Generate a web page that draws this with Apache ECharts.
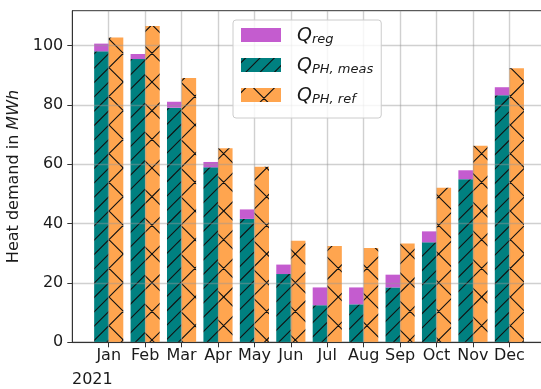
<!DOCTYPE html>
<html>
<head>
<meta charset="utf-8">
<script src="https://cdn.jsdelivr.net/npm/echarts@6/dist/echarts.min.js"></script>
<style>
  html, body { margin: 0; padding: 0; background: #fff; }
  #chart { width: 541px; height: 389px; }
</style>
</head>
<body>
<div id="chart"></div>
<script>
// Monthly heat demand 2021 (MWh)
const months = ['Jan', 'Feb', 'Mar', 'Apr', 'May', 'Jun', 'Jul', 'Aug', 'Sep', 'Oct', 'Nov', 'Dec'];
const qPhMeas = [98.1, 95.5, 79.1, 59.0, 41.6, 23.0, 12.5, 12.8, 18.5, 33.7, 55.0, 83.3];
const qReg = [2.6, 1.7, 2.0, 1.8, 3.2, 3.2, 6.0, 5.7, 4.3, 3.7, 3.0, 2.7];
const qPhRef = [102.8, 106.6, 89.1, 65.4, 59.2, 34.2, 32.5, 31.8, 33.3, 52.1, 66.3, 92.4];
const yTicks = [0, 20, 40, 60, 80, 100];
const yearLabel = '2021';

const FONT = 'DejaVu Sans';
const TEXT = '#1a1a1a';
const monthIdx = months.map((_, i) => i);

// Hatch fills: repeating tiles of diagonal lines anchored to the canvas origin
function hatch(bg, period, withBackslash) {
  const tile = 86;
  const c = document.createElement('canvas');
  c.width = tile; c.height = tile;
  const g = c.getContext('2d');
  g.fillStyle = bg;
  g.fillRect(0, 0, tile, tile);
  g.strokeStyle = '#111';
  g.lineWidth = 1.1;
  g.beginPath();
  const n = Math.ceil(3 * tile / period) + 2;
  for (let k = -n; k <= n; k++) {
    const a = 4.6 + k * period;          // lines x + y = a
    g.moveTo(a + tile, -tile); g.lineTo(a - 2 * tile, 2 * tile);
    if (withBackslash) {
      const b = 12.66 + k * period;      // lines x - y = b
      g.moveTo(b - tile, -tile); g.lineTo(b + 2 * tile, 2 * tile);
    }
  }
  g.stroke();
  return { image: c, repeat: 'repeat' };
}

const purple = '#c45ccf';
const tealFill = hatch('#008080', 86 / 6, false);
const orangeFill = hatch('#ffa54f', 86 / 3, true);

// value first so it is the stacked dimension; month index mapped onto x
const pairs = arr => arr.map((v, i) => [v, monthIdx[i]]);
const ENC = { x: 1, y: 0 };
const BAR_W = 14.57;

const legendRich = {
  q: { fontFamily: FONT, fontStyle: 'italic', fontSize: 19, color: TEXT, lineHeight: 22, verticalAlign: 'bottom', padding: [0, 0, 0, 11] },
  s: { fontFamily: FONT, fontStyle: 'italic', fontSize: 13, color: TEXT, lineHeight: 14, verticalAlign: 'bottom' }
};
const legendText = {
  reg: '{q|Q}{s|reg}',
  meas: '{q|Q}{s|PH, meas}',
  ref: '{q|Q}{s|PH, ref}'
};

const chart = echarts.init(document.getElementById('chart'), null, { renderer: 'canvas' });
chart.setOption({
  animation: false,
  backgroundColor: '#fff',
  grid: {
    left: 72.3, top: 10.7, width: 473.5, height: 331.6,
    containLabel: false, outerBoundsMode: 'none',
    show: true, borderColor: '#333', borderWidth: 1, backgroundColor: 'transparent'
  },
  legend: {
    orient: 'vertical', left: 233, top: 20,
    padding: [7, 8, 12, 8], itemGap: 11,
    itemWidth: 40, itemHeight: 14, icon: 'rect',
    backgroundColor: 'rgba(255,255,255,0.8)', borderColor: '#cccccc', borderWidth: 1, borderRadius: 3,
    data: ['reg', 'meas', 'ref'],
    formatter: name => legendText[name],
    textStyle: { rich: legendRich },
    z: 10
  },
  xAxis: {
    type: 'value', min: -1, max: 12, interval: 1, z: 5,
    axisLine: { show: true, onZero: false, lineStyle: { color: '#333', width: 1 } },
    axisTick: { show: true, length: 5, customValues: monthIdx, lineStyle: { color: '#333' } },
    axisLabel: {
      customValues: monthIdx, margin: 6,
      formatter: v => months[v] || '',
      fontFamily: FONT, fontSize: 16, color: TEXT
    },
    splitLine: { show: true, lineStyle: { color: 'rgba(150,150,150,0.45)', width: 1.4 } }
  },
  yAxis: {
    type: 'value', min: 0, max: 111.8, interval: 20, z: 5,
    axisLine: { show: true, onZero: false, lineStyle: { color: '#333', width: 1 } },
    axisTick: { show: true, length: 5, customValues: yTicks, lineStyle: { color: '#333' } },
    axisLabel: { customValues: yTicks, margin: 9, fontFamily: FONT, fontSize: 16, color: TEXT },
    splitLine: { show: true, lineStyle: { color: 'rgba(150,150,150,0.45)', width: 1.4 } },
    name: '{n|Heat demand in }{i|MWh}',
    nameLocation: 'middle', nameGap: 47, nameRotate: 90,
    nameTextStyle: {
      rich: {
        n: { fontFamily: FONT, fontSize: 16, color: TEXT },
        i: { fontFamily: FONT, fontSize: 16, fontStyle: 'italic', color: TEXT }
      }
    }
  },
  graphic: [{
    type: 'text', left: 72, top: 372,
    style: { text: yearLabel, font: '16px "DejaVu Sans"', fill: TEXT }
  }],
  series: [
    {
      name: 'meas', type: 'bar', stack: 'measured', barWidth: BAR_W, barGap: '0%',
      encode: ENC, itemStyle: { color: tealFill }, data: pairs(qPhMeas)
    },
    {
      name: 'reg', type: 'bar', stack: 'measured', barWidth: BAR_W, barGap: '0%',
      encode: ENC, itemStyle: { color: purple }, data: pairs(qReg)
    },
    {
      name: 'ref', type: 'bar', barWidth: BAR_W, barGap: '0%',
      encode: ENC, itemStyle: { color: orangeFill }, data: pairs(qPhRef)
    }
  ]
});
</script>
</body>
</html>
